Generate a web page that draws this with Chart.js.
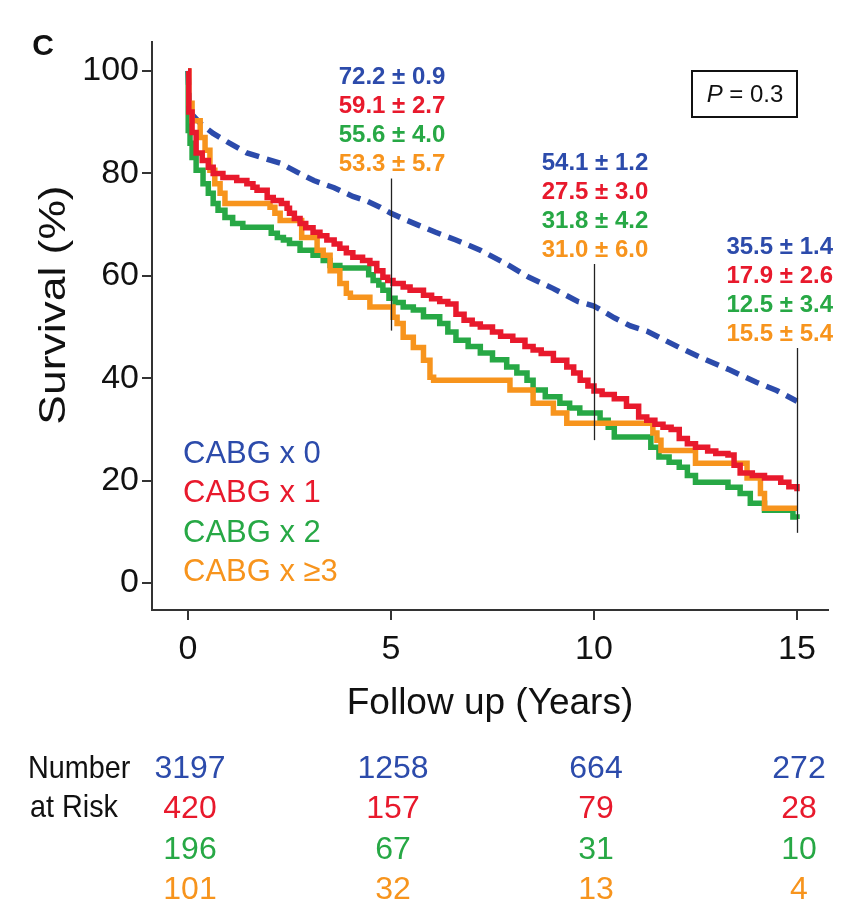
<!DOCTYPE html>
<html>
<head>
<meta charset="utf-8">
<script src="https://cdn.jsdelivr.net/npm/chart.js@4"></script>
<style>
  body { margin: 0; background: #fff; }
  canvas { display: block; }
</style>
</head>
<body>
<canvas id="grafico-km" width="841" height="906"></canvas>
<script>
// Grupos e cores
const grupos = ["CABG x 0", "CABG x 1", "CABG x 2", "CABG x \u22653"];
const cores = ["#2c4bab", "#e8192c", "#27a845", "#f7941d"];

// Curvas de sobrevida (anos, %)
const tempo0 = [0, 0.03, 0.1, 0.3, 0.62, 1.0, 1.45, 2.27, 2.7, 3.1, 3.6, 4.06, 4.4, 4.73, 5.0, 5.4, 5.7, 6.1, 6.6, 7.2, 7.8, 8.4, 9.0, 9.6, 10, 10.5, 10.9, 11.3, 12.1, 12.7, 13.35, 14, 14.5, 15];
const sobrev0 = [100, 94, 91.5, 89.8, 87.8, 86, 84, 82, 80.2, 78.6, 77.2, 75.5, 74.6, 73.4, 72.2, 70.8, 69.8, 68.5, 67, 65, 62.5, 59.7, 57.5, 55, 54.1, 51.8, 50.2, 49.2, 46, 43.8, 41.6, 39.2, 37.6, 35.5];

const tempo1 = [0, 0.02, 0.1, 0.2, 0.35, 0.5, 0.62, 0.86, 1.2, 1.45, 1.6, 1.7, 1.95, 2.1, 2.3, 2.44, 2.5, 2.62, 2.76, 2.9, 3.08, 3.25, 3.42, 3.6, 3.74, 3.9, 4.06, 4.3, 4.48, 4.65, 4.8, 4.92, 5.05, 5.3, 5.47, 5.8, 6.0, 6.2, 6.4, 6.6, 6.8, 7.0, 7.2, 7.5, 7.7, 8.0, 8.3, 8.5, 8.7, 9.0, 9.33, 9.5, 9.66, 9.85, 10.0, 10.2, 10.5, 10.8, 11.1, 11.3, 11.5, 11.7, 11.9, 12.1, 12.3, 12.5, 12.8, 13.0, 13.3, 13.45, 13.6, 13.9, 14.2, 14.6, 14.8, 15];
const sobrev1 = [100, 92, 88, 84, 82.5, 81.2, 80, 79.2, 78.6, 78, 77.3, 76.7, 75.3, 74.7, 74.1, 73.2, 72.2, 71.2, 70.2, 69.4, 68.5, 67.8, 67, 66.2, 65.4, 64.5, 63.6, 63, 62.4, 61, 59.7, 59.1, 58.5, 57.8, 57.2, 56.2, 55.5, 55.0, 54.5, 52.5, 51.3, 50.6, 50, 49, 48.2, 47.4, 46.2, 45.5, 44.8, 43.5, 42.2, 41, 39.6, 38.5, 37.5, 36.8, 36, 34.5, 32.4, 31.8, 31, 30.4, 30, 28.2, 27.2, 26.5, 25.8, 25.3, 25, 23, 21.5, 21, 20.5, 19.7, 18.8, 17.9];

const tempo2 = [0, 0.005, 0.05, 0.1, 0.2, 0.37, 0.5, 0.62, 0.74, 0.91, 1.1, 1.35, 2.05, 2.2, 2.35, 2.5, 2.76, 3.08, 3.33, 3.5, 3.74, 4.45, 4.56, 4.7, 4.8, 4.95, 5.1, 5.3, 5.55, 5.8, 6.2, 6.4, 6.6, 6.9, 7.2, 7.5, 7.85, 8.1, 8.35, 8.5, 8.8, 9.16, 9.4, 9.65, 10.15, 10.35, 10.5, 11.4, 11.6, 11.85, 12.1, 12.3, 12.5, 13.3, 13.6, 13.85, 14.2, 14.9, 15];
const sobrev2 = [100, 88.4, 85.9, 83.1, 80.6, 78, 76.1, 74.1, 72.8, 71.4, 70.2, 69.5, 68.3, 67.5, 67, 66.3, 65, 64, 63, 62, 61.5, 60.2, 59.1, 58.2, 57.2, 55.6, 54.8, 53.9, 53.3, 52, 50.7, 49, 47.4, 46.2, 44.9, 43.6, 42.2, 41, 39.6, 37.7, 36.4, 35.1, 34.2, 33.2, 31.8, 30.4, 28.5, 26.5, 24.6, 23.6, 22.6, 21, 19.7, 18.7, 17.5, 15.6, 14.2, 12.9, 12.5];

const tempo3 = [0, 0.02, 0.1, 0.3, 0.42, 0.54, 0.66, 0.79, 0.91, 2.02, 2.14, 2.27, 2.8, 3.18, 3.33, 3.5, 3.74, 3.9, 4.0, 4.48, 5.05, 5.15, 5.3, 5.55, 5.8, 5.96, 6.05, 7.93, 8.5, 9.0, 9.33, 11.45, 11.55, 11.65, 12.5, 13.77, 14.1, 14.2, 15];
const sobrev3 = [100, 93.7, 90.3, 87, 84.5, 80.6, 78, 76.1, 74.1, 73.4, 72.2, 70.8, 67.5, 65, 64, 61, 58.5, 56.6, 55.8, 53.9, 51.9, 50.7, 48, 46, 43.5, 40.2, 39.6, 37.7, 35.1, 33.2, 31.2, 29.3, 27.9, 25.9, 23.4, 20.5, 17.5, 14.6, 14.6];

// Estimativas (% ± EP) em 5, 10 e 15 anos
const anosMarca = [5, 10, 15];
const est0 = [72.2, 54.1, 35.5], ep0 = [0.9, 1.2, 1.4];
const est1 = [59.1, 27.5, 17.9], ep1 = [2.7, 3.0, 2.6];
const est2 = [55.6, 31.8, 12.5], ep2 = [4.0, 4.2, 3.4];
const est3 = [53.3, 31.0, 15.5], ep3 = [5.7, 6.0, 5.4];
// linhas verticais de referência (topo e base, em %)
const linhaTopo = [79, 62.3, 45.9];
const linhaBase = [49.3, 27.9, 9.8];

// Número em risco
const anosRisco = [0, 5, 10, 15];
const risco0 = [3197, 1258, 664, 272];
const risco1 = [420, 157, 79, 28];
const risco2 = [196, 67, 31, 10];
const risco3 = [101, 32, 13, 4];

const ticksX = [0, 5, 10, 15];
const ticksY = [0, 20, 40, 60, 80, 100];
const valorP = "0.3";

const FONTE = "'Liberation Sans', Arial, Helvetica, sans-serif";

function pontos(t, s) {
    return t.map((x, i) => ({ x: x, y: s[i] }));
}

const tempos = [tempo0, tempo1, tempo2, tempo3];
const sobrevs = [sobrev0, sobrev1, sobrev2, sobrev3];
const estimativas = [est0, est1, est2, est3];
const erros = [ep0, ep1, ep2, ep3];
const riscos = [risco0, risco1, risco2, risco3];

// Plugin com textos, anotações e tabela
const extras = {
    id: "extras",
    afterDatasetsDraw(chart) {
        const ctx = chart.ctx;
        const sx = chart.scales.x;
        const sy = chart.scales.y;
        ctx.save();

        // linhas verticais
        ctx.strokeStyle = "#222";
        ctx.lineWidth = 1.3;
        anosMarca.forEach((a, i) => {
            const px = Math.round(sx.getPixelForValue(a)) + 0.5;
            ctx.beginPath();
            ctx.moveTo(px, sy.getPixelForValue(linhaTopo[i]));
            ctx.lineTo(px, sy.getPixelForValue(linhaBase[i]));
            ctx.stroke();
        });

        // anotações
        ctx.font = "bold 24px " + FONTE;
        ctx.textBaseline = "middle";
        anosMarca.forEach((a, i) => {
            const px = sx.getPixelForValue(a);
            const yBase = sy.getPixelForValue(linhaTopo[i]) - 14;
            for (let g = 0; g < 4; g++) {
                const txt = estimativas[g][i].toFixed(1) + " \u00b1 " + erros[g][i].toFixed(1);
                ctx.fillStyle = cores[g];
                const y = yBase - (3 - g) * 29;
                if (i === 2) {
                    ctx.textAlign = "right";
                    ctx.fillText(txt, 833, y);
                } else {
                    ctx.textAlign = "center";
                    ctx.fillText(txt, px + 1, y);
                }
            }
        });

        // legenda
        ctx.font = "31px " + FONTE;
        ctx.textAlign = "left";
        grupos.forEach((g, i) => {
            ctx.fillStyle = cores[i];
            ctx.fillText(g, 183, 454 + i * 39.5);
        });

        // caixa do P
        ctx.strokeStyle = "#111";
        ctx.lineWidth = 2;
        ctx.strokeRect(692, 71, 105, 46);
        ctx.fillStyle = "#111";
        ctx.font = "italic 24px " + FONTE;
        const wP = ctx.measureText("P").width;
        ctx.font = "24px " + FONTE;
        const resto = " = " + valorP;
        const wR = ctx.measureText(resto).width;
        const x0 = 745 - (wP + wR) / 2;
        ctx.textAlign = "left";
        ctx.font = "italic 24px " + FONTE;
        ctx.fillText("P", x0, 95);
        ctx.font = "24px " + FONTE;
        ctx.fillText(resto, x0 + wP, 95);

        // rótulo do painel
        ctx.font = "bold 30px " + FONTE;
        ctx.textAlign = "center";
        ctx.fillText("C", 43, 47);

        // títulos dos eixos
        ctx.font = "37px " + FONTE;
        ctx.fillText("Follow up (Years)", (chart.chartArea.left + chart.chartArea.right) / 2, 704);
        ctx.save();
        ctx.translate(55, 305);
        ctx.rotate(-Math.PI / 2);
        ctx.scale(1.2, 1);
        ctx.font = "37px " + FONTE;
        ctx.fillText("Survival (%)", 0, 0);
        ctx.restore();

        // número em risco
        ctx.font = "32px " + FONTE;
        ctx.textAlign = "left";
        ctx.fillStyle = "#111";
        ctx.save();
        ctx.scale(0.9, 1);
        ctx.fillText("Number", 28 / 0.9, 769);
        ctx.fillText("at Risk", 30 / 0.9, 808);
        ctx.restore();
        ctx.textAlign = "center";
        riscos.forEach((linha, g) => {
            ctx.fillStyle = cores[g];
            linha.forEach((n, i) => {
                ctx.fillText(String(n), sx.getPixelForValue(anosRisco[i]) + 2, 769 + g * 40.5);
            });
        });

        ctx.restore();
    }
};

const ctx = document.getElementById("grafico-km").getContext("2d");
const grafico = new Chart(ctx, {
    type: "line",
    data: {
        datasets: grupos.map((g, i) => ({
            label: g,
            data: pontos(tempos[i], sobrevs[i]),
            borderColor: cores[i],
            borderWidth: 5.5,
            borderDash: i === 0 ? [14, 8] : [],
            stepped: i === 0 ? false : true,
            pointRadius: 0,
            fill: false,
            tension: 0,
            order: i === 0 ? 3 : (i === 1 ? 0 : (i === 2 ? 2 : 1)),
        })),
    },
    options: {
        responsive: false,
        animation: false,
        layout: { padding: { top: 42, right: 13, left: 0, bottom: 0 } },
        plugins: {
            legend: { display: false },
            tooltip: { enabled: false },
        },
        scales: {
            x: {
                type: "linear",
                min: -0.887,
                max: 15.764,
                afterFit: (s) => { s.height = 296; },
                afterBuildTicks: (s) => { s.ticks = ticksX.map(v => ({ value: v })); },
                grid: { drawOnChartArea: false, drawTicks: true, tickLength: 10, color: "#333", lineWidth: 2 },
                border: { display: true, color: "#333", width: 2 },
                ticks: { autoSkip: false, maxRotation: 0, padding: 9, color: "#111", font: { family: FONTE, size: 34 } },
            },
            y: {
                type: "linear",
                min: -5.27,
                max: 105.66,
                afterFit: (s) => { s.width = 152; },
                afterBuildTicks: (s) => { s.ticks = ticksY.map(v => ({ value: v })); },
                grid: { drawOnChartArea: false, drawTicks: true, tickLength: 10, color: "#333", lineWidth: 2 },
                border: { display: true, color: "#333", width: 2 },
                ticks: { autoSkip: false, padding: 3, color: "#111", font: { family: FONTE, size: 34 } },
            },
        },
    },
    plugins: [extras],
});
</script>
</body>
</html>
